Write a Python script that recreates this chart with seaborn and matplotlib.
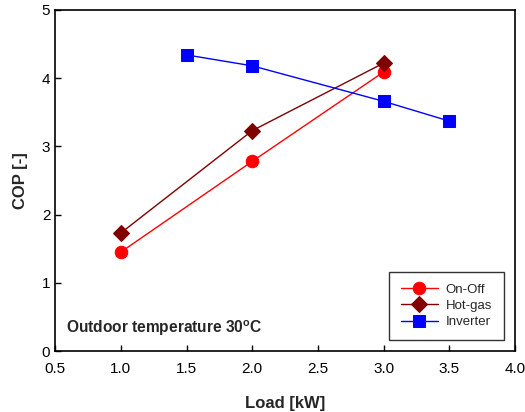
import matplotlib
matplotlib.use("Agg")
import matplotlib.pyplot as plt
import seaborn as sns
import pandas as pd

onoff_x = [1.0, 2.0, 3.0]
onoff_y = [1.45, 2.78, 4.09]
hotgas_x = [1.0, 2.0, 3.0]
hotgas_y = [1.73, 3.23, 4.22]
inverter_x = [1.5, 2.0, 3.0, 3.5]
inverter_y = [4.34, 4.18, 3.66, 3.37]
series_names = ["On-Off", "Hot-gas", "Inverter"]

sns.set_style("ticks")
plt.rcParams['font.family'] = ['Liberation Sans', 'DejaVu Sans']

df = pd.concat([
    pd.DataFrame({"x": onoff_x, "y": onoff_y, "s": series_names[0]}),
    pd.DataFrame({"x": hotgas_x, "y": hotgas_y, "s": series_names[1]}),
    pd.DataFrame({"x": inverter_x, "y": inverter_y, "s": series_names[2]}),
])

fig = plt.figure(figsize=(5.25, 4.12), dpi=100)
ax = fig.add_axes([0.105, 0.148, 0.876, 0.828])

palette = {"On-Off": "#ff0000", "Hot-gas": "#800000", "Inverter": "#0000ff"}
markers = {"On-Off": "o", "Hot-gas": "D", "Inverter": "s"}
sizes = {"On-Off": 9, "Hot-gas": 8, "Inverter": 8.5}
for name in series_names:
    sub = df[df.s == name]
    sns.lineplot(data=sub, x="x", y="y", ax=ax, color=palette[name], marker=markers[name],
                 markersize=sizes[name], markeredgecolor=palette[name], linewidth=1.0,
                 label=name, sort=False)

ax.set_xlim(0.5, 4.0)
ax.set_ylim(0, 5)
ax.set_xticks([0.5, 1.0, 1.5, 2.0, 2.5, 3.0, 3.5, 4.0])
ax.set_xticklabels(["0.5", "1.0", "1.5", "2.0", "2.5", "3.0", "3.5", "4.0"])
ax.set_yticks([0, 1, 2, 3, 4, 5])
ax.tick_params(direction="in", labelsize=11, length=4, width=1, colors="black")
ax.tick_params(axis="x", pad=8)
for sp in ax.spines.values():
    sp.set_linewidth(1.2)
    sp.set_color("black")
ax.set_xlabel("Load [kW]", fontsize=12, fontweight="bold", labelpad=14)
ax.set_ylabel("COP [-]", fontsize=12, fontweight="bold", labelpad=10)

ax.text(0.58, 0.26, r"Outdoor temperature 30$^{\mathregular{o}}$C", fontsize=11.2, fontweight="bold")

leg = ax.legend(loc="lower right", bbox_to_anchor=(0.976, 0.032), borderaxespad=0, fontsize=9.5,
                frameon=True, fancybox=False, edgecolor="black", handlelength=2.8, borderpad=0.9,
                labelspacing=0.3, handletextpad=0.6)
leg.get_frame().set_linewidth(1.0)

fig.savefig("out.png", dpi=100)
